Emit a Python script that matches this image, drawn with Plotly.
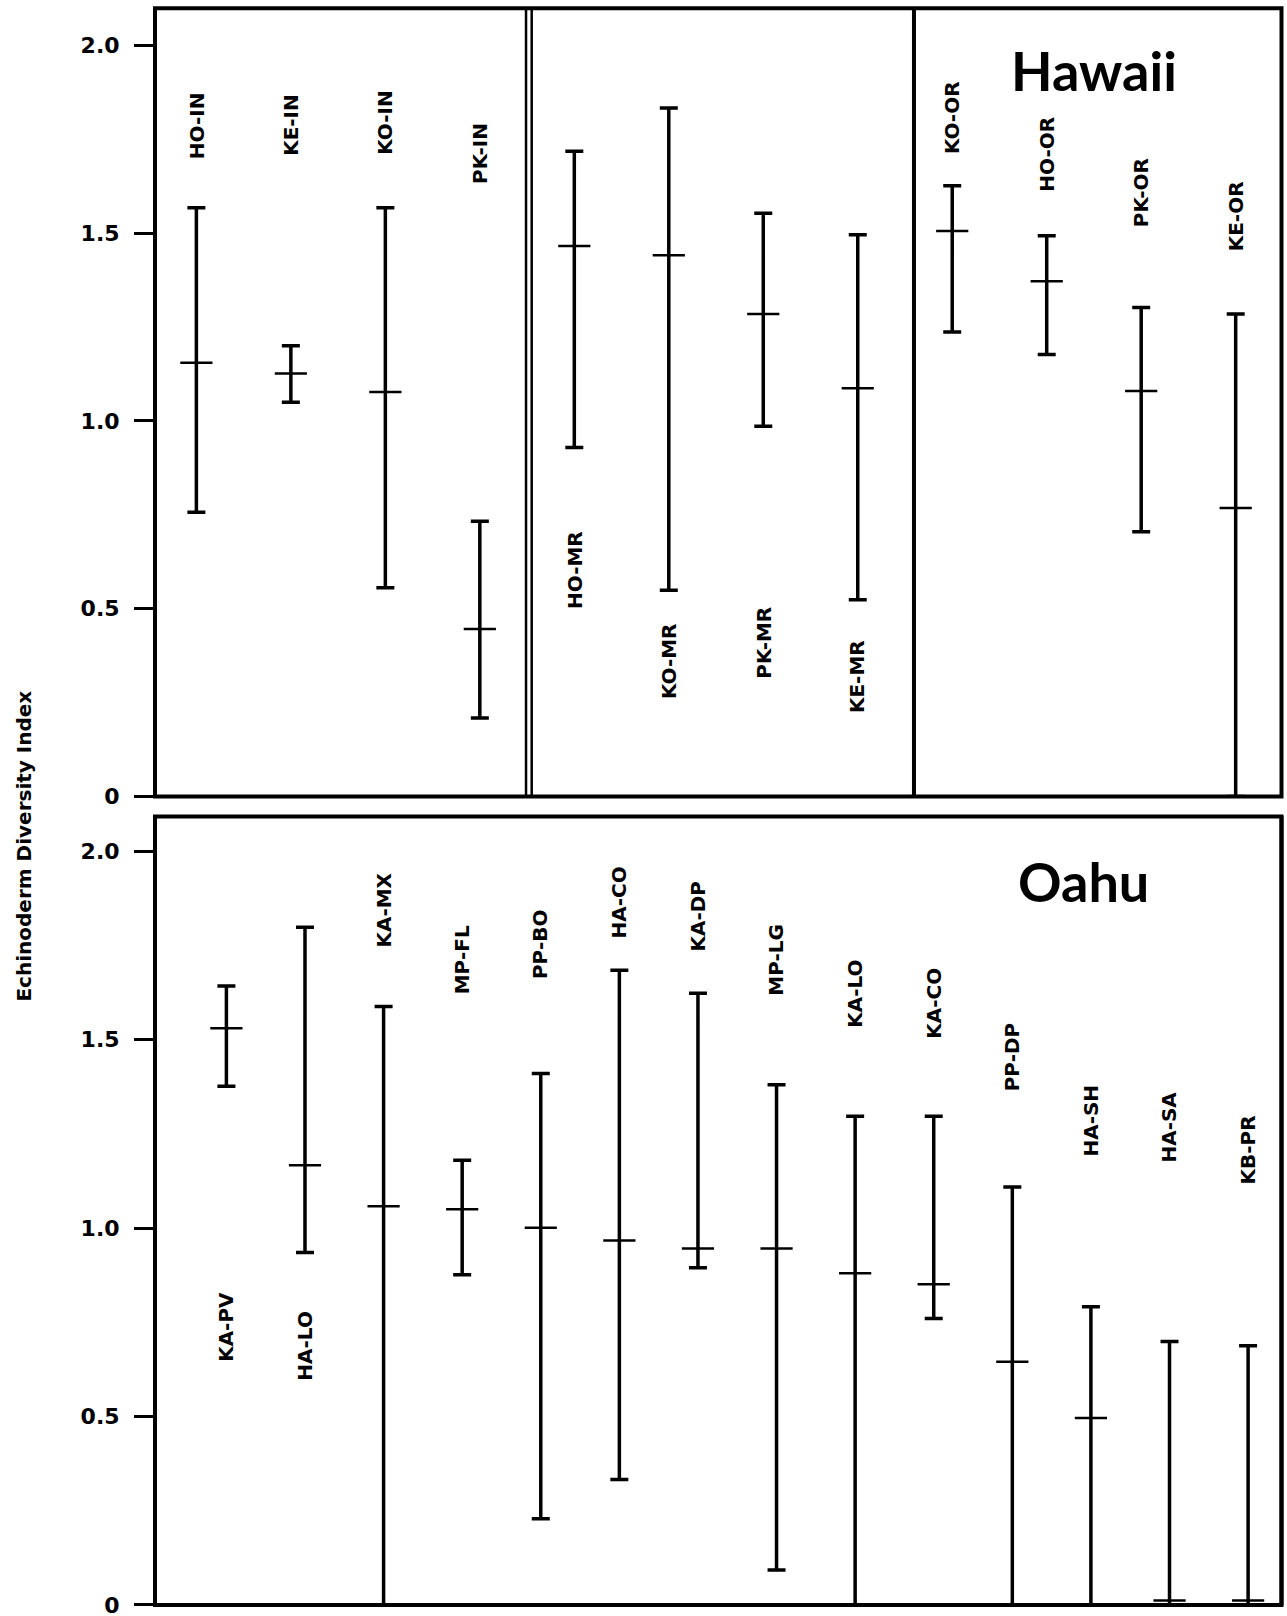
import plotly.graph_objects as go

# ---------------- data ----------------
top_sites = ['HO-IN', 'KE-IN', 'KO-IN', 'PK-IN', 'HO-MR', 'KO-MR', 'PK-MR', 'KE-MR',
             'KO-OR', 'HO-OR', 'PK-OR', 'KE-OR']
top_mean = [1.155, 1.126, 1.077, 0.446, 1.466, 1.441, 1.285, 1.087, 1.506, 1.372, 1.080, 0.768]
top_high = [1.568, 1.200, 1.568, 0.733, 1.718, 1.833, 1.553, 1.496, 1.626, 1.493, 1.302, 1.285]
top_low = [0.757, 1.050, 0.556, 0.209, 0.929, 0.549, 0.986, 0.524, 1.237, 1.177, 0.705, 0.0]
top_label_y = [1.786, 1.788, 1.795, 1.713, 0.604, 0.36, 0.41, 0.32, 1.807, 1.711, 1.607, 1.544]

bot_sites = ['KA-PV', 'HA-LO', 'KA-MX', 'MP-FL', 'PP-BO', 'HA-CO', 'KA-DP', 'MP-LG',
             'KA-LO', 'KA-CO', 'PP-DP', 'HA-SH', 'HA-SA', 'KB-PR']
bot_mean = [1.530, 1.167, 1.058, 1.050, 1.001, 0.967, 0.946, 0.946, 0.880, 0.851, 0.645, 0.496, 0.012, 0.012]
bot_high = [1.642, 1.798, 1.588, 1.180, 1.410, 1.684, 1.623, 1.380, 1.297, 1.297, 1.109, 0.791, 0.699, 0.688]
bot_low = [1.376, 0.935, 0.0, 0.876, 0.229, 0.333, 0.895, 0.093, 0.0, 0.760, 0.0, 0.0, 0.0, 0.0]
bot_label_y = [0.739, 0.688, 1.844, 1.711, 1.753, 1.865, 1.829, 1.711, 1.622, 1.597, 1.454, 1.285, 1.268, 1.206]

tick_vals = [0, 0.5, 1.0, 1.5, 2.0]
tick_text = ['0', '0.5', '1.0', '1.5', '2.0']

y_title = 'Echinoderm Diversity Index'
top_title = 'Hawaii'
bot_title = 'Oahu'

# ---------------- figure ----------------
REF_W, REF_H = 1287, 1616
W, H = 1287, 1632
BLACK = 'black'
LBL_FONT = dict(family='DejaVu Sans', size=20, color=BLACK, weight='bold')
TICK_FONT = dict(family='DejaVu Sans', size=22, color=BLACK, weight='bold')


def px(p):
    return p / REF_W


def py(p):
    return 1 - p / REF_H


fig = go.Figure()


def add_panel(sites, mean, high, low, xa, ya):
    xs = list(range(len(sites)))
    fig.add_trace(go.Scatter(
        x=xs, y=mean, mode='markers', xaxis=xa, yaxis=ya, showlegend=False,
        marker=dict(symbol='line-ew', size=23, color=BLACK,
                    line=dict(color=BLACK, width=2.5)),
        error_y=dict(type='data', symmetric=False,
                     array=[h - m for h, m in zip(high, mean)],
                     arrayminus=[m - l for m, l in zip(mean, low)],
                     color=BLACK, thickness=3.5, width=9),
        hoverinfo='skip'))


add_panel(top_sites, top_mean, top_high, top_low, 'x', 'y')
add_panel(bot_sites, bot_mean, bot_high, bot_low, 'x2', 'y2')

annotations = []
for i, (s, ly) in enumerate(zip(top_sites, top_label_y)):
    annotations.append(dict(x=i, y=ly, xref='x', yref='y', text=s, textangle=-90,
                            showarrow=False, font=LBL_FONT, xanchor='center', yanchor='middle'))
for i, (s, ly) in enumerate(zip(bot_sites, bot_label_y)):
    annotations.append(dict(x=i, y=ly, xref='x2', yref='y2', text=s, textangle=-90,
                            showarrow=False, font=LBL_FONT, xanchor='center', yanchor='middle'))

annotations.append(dict(x=px(1094), y=py(70), xref='paper', yref='paper', text=top_title,
                        showarrow=False, xanchor='center', yanchor='middle',
                        font=dict(family='Lato', size=54, color=BLACK, weight='bold')))
annotations.append(dict(x=px(1083), y=py(880), xref='paper', yref='paper', text=bot_title,
                        showarrow=False, xanchor='center', yanchor='middle',
                        font=dict(family='Lato', size=54, color=BLACK, weight='bold')))
annotations.append(dict(x=px(24), y=py(845), xref='paper', yref='paper', text=y_title,
                        textangle=-90, showarrow=False, xanchor='center', yanchor='middle',
                        font=dict(family='DejaVu Sans', size=20, color=BLACK, weight='bold')))

x_dom = [px(155), px(1281.5)]
top_dom = [py(795), py(8.2)]
bot_dom = [py(1602), py(815)]

xcommon = dict(showline=False, showgrid=False, zeroline=False, showticklabels=False,
               ticks='', domain=x_dom)
ycommon = dict(showline=False, showgrid=False, zeroline=False,
               tickvals=tick_vals, ticktext=tick_text,
               ticks='outside', ticklen=20, tickwidth=3, tickcolor=BLACK,
               tickfont=TICK_FONT, ticklabelstandoff=10)

shapes = [
    # panel frames
    dict(type='rect', xref='x domain', yref='y domain', x0=0, x1=1, y0=0, y1=1,
         line=dict(color=BLACK, width=4), fillcolor='rgba(0,0,0,0)'),
    dict(type='rect', xref='x2 domain', yref='y2 domain', x0=0, x1=1, y0=0, y1=1,
         line=dict(color=BLACK, width=4), fillcolor='rgba(0,0,0,0)'),
    # explicit right edge of the Oahu panel
    dict(type='line', xref='x2 domain', yref='y2 domain', x0=1, x1=1, y0=0, y1=1,
         line=dict(color=BLACK, width=4)),
    # habitat separators in the Hawaii panel
    dict(type='line', xref='x', yref='y domain', x0=3.489, x1=3.489, y0=0, y1=1,
         line=dict(color=BLACK, width=2.5)),
    dict(type='line', xref='x', yref='y domain', x0=3.549, x1=3.549, y0=0, y1=1,
         line=dict(color=BLACK, width=2.5)),
    dict(type='line', xref='x', yref='y domain', x0=7.595, x1=7.595, y0=0, y1=1,
         line=dict(color=BLACK, width=4)),
]

fig.update_layout(
    width=W, height=H,
    margin=dict(l=0, r=0, t=0, b=0),
    paper_bgcolor='white', plot_bgcolor='white',
    xaxis=dict(xcommon, range=[-0.438, 11.485], anchor='y'),
    yaxis=dict(ycommon, domain=top_dom, range=[0, 2.099], anchor='x'),
    xaxis2=dict(xcommon, range=[-0.9085, 13.425], anchor='y2'),
    yaxis2=dict(ycommon, domain=bot_dom, range=[0, 2.092], anchor='x2'),
    annotations=annotations,
    shapes=shapes,
    showlegend=False,
)

# remove the default page margin so the figure sits exactly in the window
fig.write_html(
    'out.html',
    config={'displayModeBar': False},
    post_script="document.body.style.margin='0';"
                "document.documentElement.style.overflow='hidden';"
                "document.body.style.overflow='hidden';",
)
